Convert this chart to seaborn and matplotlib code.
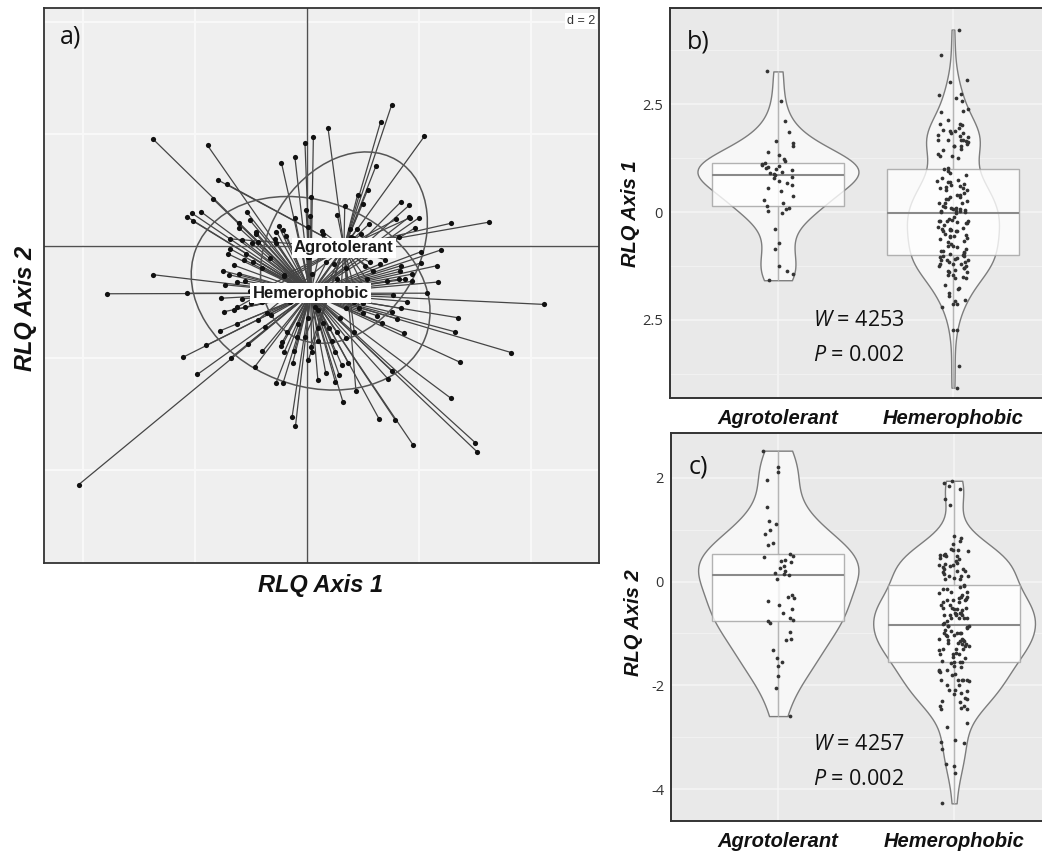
import numpy as np
import pandas as pd
import matplotlib
matplotlib.use("Agg")
import matplotlib.pyplot as plt
import seaborn as sns
from matplotlib.patches import Ellipse
from matplotlib.collections import LineCollection

# ---------------- data ----------------
categories = ["Agrotolerant", "Hemerophobic"]

agro_axis1 = [1.52, 1.32, 0.38, 2.10, 1.24, -1.58, -1.43, 1.09, 0.91, 1.00,
              0.68, 0.55, 1.85, 1.60, 3.26, 2.58, 1.11, 0.78, 0.27, 0.97,
              1.65, 0.82, -1.36, 0.10, 1.40, 1.13, 0.48, 1.05, 1.18, -0.40,
              1.07, 0.62, -0.72, 1.03, 0.14, 0.73, -1.24, 0.94, -0.86, 0.20,
              0.85, -0.03, 0.07, 0.03, 0.88]
agro_axis2 = [2.52, 2.21, 2.11, 1.95, 1.43, 1.17, 1.10, 1.00, 0.91, 0.75,
              0.70, 0.54, 0.50, 0.47, 0.42, 0.40, 0.38, 0.30, 0.26, 0.20,
              0.16, 0.14, 0.12, 0.05, -0.25, -0.30, -0.32, -0.37, -0.45, -0.52,
              -0.60, -0.70, -0.74, -0.75, -0.79, -0.97, -1.10, -1.12, -1.32, -1.47,
              -1.55, -1.63, -1.81, -2.05, -2.59]

hemero_axis1 = [-2.74, -1.77, -1.68, -2.05, -2.13, -2.03, -1.88, -1.07, -1.01, -1.21,
                -0.91, -0.54, -0.42, -0.36, -0.57, -0.86, -0.98, -1.36, -1.08, -0.95,
                -0.66, -0.45, -0.21, -0.03, 0.12, 0.08, -0.01, 0.06, 0.02, -0.21,
                -0.12, 0.02, -2.74, -1.39, -1.20, -1.24, -1.10, -3.56, -2.14, -1.53,
                -1.01, -1.47, -1.00, -0.79, -1.54, -1.79, -2.20, -1.95, -0.93, -0.79,
                -0.44, -0.18, -0.40, -0.22, 0.09, 0.21, -0.55, -0.42, -0.26, -0.20,
                -4.07, -0.63, 0.03, 4.23, 2.35, 2.14, 2.71, 2.65, 3.65, 2.73,
                2.58, 3.01, 3.05, 1.90, 1.58, 1.29, 1.52, 1.46, 1.73, 1.62,
                1.68, 1.79, 1.54, 1.34, 1.25, 1.52, 0.74, 0.63, 0.58, 0.51,
                0.34, 0.71, 0.55, 0.39, 0.30, 0.70, 0.21, 1.01, 1.64, 1.76,
                1.88, 1.43, 1.88, 1.67, 2.39, 2.04, 2.32, 2.05, 1.68, 1.31,
                1.83, 2.01, 1.94, 1.68, 1.83, -1.15, -1.30, -1.45, -1.10, -1.40,
                -1.25, -1.12, -1.50, -1.20, -1.05, -1.35, -1.30, -1.15, -0.80, -0.60,
                -0.40, -0.30, -0.70, -0.50, -0.20, -0.90, -0.15, -0.35, -0.55, -0.25,
                -0.75, -0.45, 0.10, 0.25, 0.40, 0.55, 0.70, 0.85, 0.15, 0.35,
                0.60, 0.95, 0.05, 0.45, 0.80, 1.00, 0.20, 0.65, 0.30, 0.90,
                0.50, 0.00]
hemero_axis2 = [1.90, 1.79, 0.84, 0.58, 0.51, 0.44, 0.60, 0.60, 0.45, 0.32,
                0.24, 0.25, 0.28, 0.18, 0.11, 0.06, 0.04, -0.06, -0.15, -0.29,
                -0.23, 1.48, 1.58, 1.83, 1.94, 0.87, 0.63, 0.53, 0.34, 0.49,
                0.10, -0.20, -0.52, -0.52, -0.50, -0.65, -0.63, -0.86, -0.85, -0.94,
                -0.81, -1.18, -1.02, -1.00, -1.52, -1.78, -1.99, -2.30, -2.17, -1.89,
                -1.73, -1.63, -1.90, -1.89, -1.90, -1.70, -2.46, -2.45, -3.06, -3.23,
                -4.27, -1.24, -1.30, -1.05, -0.65, -0.85, -1.29, -1.54, -1.91, -2.08,
                -2.73, -3.52, -3.69, -3.56, -3.11, -3.09, -2.24, -2.39, -1.56, -1.31,
                -1.12, -1.00, -0.88, -1.38, -1.25, -1.19, -2.09, -2.14, -2.31, -2.43,
                -2.27, -1.65, -1.55, -1.48, -1.39, -1.12, -1.15, -1.03, -0.60, -0.60,
                -0.64, -0.64, -0.51, -0.46, -0.08, -0.11, -0.36, -0.31, -0.36, -0.33,
                0.51, 0.50, 0.32, 0.78, 0.72, 0.10, -0.35, -0.70, -1.10, -0.15,
                -1.40, -0.25, -0.45, 0.40, -1.75, -2.00, -1.15, -0.95, -0.40, -0.70,
                -0.55, -1.00, -1.20, 0.35, -0.80, 0.20, -1.40, -1.55, 0.05, -2.10,
                -1.45, -1.80, -0.50, -0.70, -0.90, -0.60, -0.40, -1.00, -1.10, -0.30,
                -1.30, -0.70, -0.20, -1.70, 0.15, -1.20, -2.40, -2.80, 0.20, 0.30,
                -1.90, -0.75]

b_ticks = [-2.5, 0, 2.5]
b_ticklabels = ["2.5", "0", "2.5"]
c_ticks = [-4, -2, 0, 2]
c_ticklabels = ["-4", "-2", "0", "2"]
b_stats = ("4253", "0.002")
c_stats = ("4257", "0.002")
grid_d = 2

# ---------------- style ----------------
sns.set_style("white")
plt.rcParams["font.family"] = ["Liberation Sans", "DejaVu Sans"]
plt.rcParams["mathtext.fontset"] = "custom"
plt.rcParams["mathtext.rm"] = "Open Sans"
plt.rcParams["mathtext.it"] = "Open Sans:italic"

df = pd.DataFrame({
    "group": [categories[0]] * len(agro_axis1) + [categories[1]] * len(hemero_axis1),
    "axis1": agro_axis1 + hemero_axis1,
    "axis2": agro_axis2 + hemero_axis2,
})

W, H = 1042, 859
fig = plt.figure(figsize=(W / 100, H / 100), dpi=100)


def px_axes(l, t, r, b):
    return fig.add_axes([l / W, 1 - b / H, (r - l) / W, (b - t) / H])


axa = px_axes(44, 8, 599, 563)
axb = px_axes(670, 8, 1042, 398)
axc = px_axes(671, 433, 1042, 821)

# ---------------- panel a ----------------
axa.set_facecolor("#efefef")
axa.set_xlim(-4.69, 5.22)
axa.set_ylim(-5.67, 4.245)
gt = np.arange(-4, 5, grid_d)
axa.set_xticks(gt)
axa.set_yticks(gt)
axa.grid(True, color="#f9f9f9", lw=1.4)
axa.set_axisbelow(True)
axa.tick_params(length=0, labelbottom=False, labelleft=False)
axa.axhline(0, color="#505050", lw=1.0, zorder=1.2)
axa.axvline(0, color="#505050", lw=1.0, zorder=1.2)

for g in categories:
    sub = df[df.group == g]
    x = sub.axis1.to_numpy()
    y = sub.axis2.to_numpy()
    cx, cy = x.mean(), y.mean()
    segs = [[(xi, yi), (cx, cy)] for xi, yi in zip(x, y)]
    axa.add_collection(LineCollection(segs, colors="#454545", linewidths=0.9, zorder=2))
    cov = np.cov(x, y, ddof=0)
    vals, vecs = np.linalg.eigh(cov)
    order = vals.argsort()[::-1]
    vals, vecs = vals[order], vecs[:, order]
    ang = np.degrees(np.arctan2(vecs[1, 0], vecs[0, 0]))
    axa.add_patch(Ellipse((cx, cy), 2 * 1.5 * np.sqrt(vals[0]), 2 * 1.5 * np.sqrt(vals[1]),
                          angle=ang, fill=False, edgecolor="#555555", lw=1.1, zorder=2.2))

sns.scatterplot(data=df, x="axis1", y="axis2", color="#111111", s=14, linewidth=0,
                legend=False, ax=axa, zorder=3)
for g in categories:
    sub = df[df.group == g]
    axa.text(sub.axis1.mean(), sub.axis2.mean(), g, ha="center", va="center",
             fontsize=12, fontweight="bold", color="#1a1a1a", zorder=5,
             bbox=dict(boxstyle="square,pad=0.15", fc="white", ec="none"))

for s in axa.spines.values():
    s.set_color("#333333")
    s.set_linewidth(1.3)
axa.set_xlabel("")
axa.set_ylabel("")
axa.text(0.499, -0.040, "RLQ Axis 1", transform=axa.transAxes, ha="center", va="center",
         fontsize=17, fontweight="bold", fontstyle="italic", color="#111111")
axa.text(-0.034, 0.459, "RLQ Axis 2", transform=axa.transAxes, ha="center", va="center",
         rotation=90, fontsize=17, fontweight="bold", fontstyle="italic", color="#111111")
axa.text(0.047, 0.948, "a)", transform=axa.transAxes, ha="center", va="center",
         fontsize=18, family="Open Sans", color="#111111")
axa.text(0.993, 0.988, f"d = {grid_d}", transform=axa.transAxes, ha="right", va="top",
         fontsize=9, color="#333333",
         bbox=dict(boxstyle="square,pad=0.15", fc="white", ec="none"))


# ---------------- panels b, c ----------------
def violin_panel(ax, col, ylim, xlim, ticks, ticklabels, minors, ylabel, letter,
                 stats, label_xy, seed):
    ax.set_facecolor("#e9e9e9")
    sns.violinplot(data=df, x="group", y=col, order=categories, cut=0, inner=None,
                   density_norm="area", width=0.92, bw_method="silverman", bw_adjust=0.8,
                   color="#f7f7f7", linecolor="#7d7d7d", linewidth=1.0, saturation=1, ax=ax)
    # thin full-range line (whisker through the box)
    sns.boxplot(data=df, x="group", y=col, order=categories, width=0.004, whis=(0, 100),
                showfliers=False, showcaps=False, color="#b5b5b5", linecolor="#b5b5b5",
                linewidth=0.9, saturation=1, ax=ax)
    sns.boxplot(data=df, x="group", y=col, order=categories, width=0.75, whis=(0, 100),
                showfliers=False, showcaps=False, color="white", linecolor="#a0a0a0",
                linewidth=1.0, saturation=1,
                boxprops=dict(alpha=0.8),
                medianprops=dict(color="#8a8a8a", linewidth=1.5),
                whiskerprops=dict(color="#b5b5b5", linewidth=0.9), ax=ax)
    np.random.seed(seed)
    sns.stripplot(data=df, x="group", y=col, order=categories, jitter=0.09, size=2.7,
                  color="#333333", linewidth=0, ax=ax)
    ax.set_xlim(*xlim)
    ax.set_ylim(*ylim)
    ax.tick_params(which="minor", length=0)
    ax.tick_params(which="major", length=3, width=0.8, color="#333333")
    ax.tick_params(axis="y", labelsize=10.5, labelcolor="#333333", pad=2)
    ax.tick_params(axis="x", pad=5)
    ax.set_yticks(ticks)
    ax.set_yticklabels(ticklabels, family="Open Sans", fontsize=10.5, color="#333333")
    ax.set_yticks(minors, minor=True)
    ax.set_xticks([0, 1])
    ax.set_xticklabels(categories, fontsize=14.5, fontweight="bold", fontstyle="italic",
                       color="#111111")
    ax.set_axisbelow(True)
    ax.grid(which="major", color="#f6f6f6", lw=1.1)
    ax.grid(which="minor", axis="y", color="#f3f3f3", lw=0.6)
    for s in ["left", "top", "bottom"]:
        ax.spines[s].set_color("#333333")
        ax.spines[s].set_linewidth(1.4)
    ax.spines["right"].set_visible(False)
    ax.set_xlabel("")
    ax.set_ylabel(ylabel, fontsize=14.5, fontweight="bold", fontstyle="italic",
                  color="#111111")
    ax.yaxis.set_label_coords(*label_xy)
    ax.yaxis.label.set_va("center")
    ax.text(0.075, 0.912, letter, transform=ax.transAxes, ha="center", va="center",
            fontsize=18, family="Open Sans", color="#111111")
    ax.text(0.384, 0.198, r"$\mathit{W}$ = " + stats[0], transform=ax.transAxes,
            ha="left", va="center", fontsize=15.5, family="Open Sans", color="#111111")
    ax.text(0.384, 0.108, r"$\mathit{P}$ = " + stats[1], transform=ax.transAxes,
            ha="left", va="center", fontsize=15.5, family="Open Sans", color="#111111")


violin_panel(axb, "axis1", (-4.31, 4.73), (-0.617, 1.509), b_ticks, b_ticklabels,
             [-3.75, -1.25, 1.25, 3.75], "RLQ Axis 1", "b)", b_stats, (-0.1075, 0.474), 4)
violin_panel(axc, "axis2", (-4.61, 2.86), (-0.61, 1.50), c_ticks, c_ticklabels,
             [-3, -1, 1], "RLQ Axis 2", "c)", c_stats, (-0.1024, 0.51), 9)

fig.savefig("out.png", dpi=100, facecolor="white")
